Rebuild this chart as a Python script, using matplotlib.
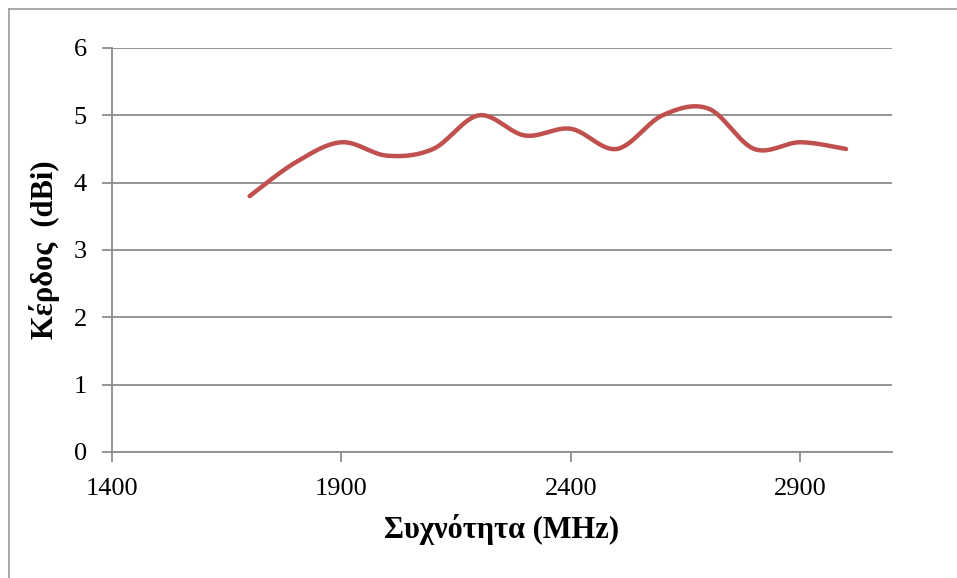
import numpy as np
import matplotlib.pyplot as plt
from matplotlib.lines import Line2D

# Data
freq = [1700, 1800, 1900, 2000, 2100, 2200, 2300, 2400, 2500, 2600, 2700, 2800, 2900, 3000]
gain = [3.8, 4.3, 4.6, 4.4, 4.5, 5.0, 4.7, 4.8, 4.5, 5.0, 5.1, 4.5, 4.6, 4.5]
xticks = [1400, 1900, 2400, 2900]
yticks = [0, 1, 2, 3, 4, 5, 6]

def smooth(x, y, n=30):
    # Catmull-Rom style smoothing like Excel's "smoothed line"
    x = np.asarray(x, float)
    y = np.asarray(y, float)
    px = np.concatenate([[x[0]], x, [x[-1]]])
    py = np.concatenate([[y[0]], y, [y[-1]]])
    t = np.linspace(0, 1, n)
    xs, ys = [], []
    for i in range(1, len(px) - 2):
        p0, p1, p2, p3 = px[i-1], px[i], px[i+1], px[i+2]
        q0, q1, q2, q3 = py[i-1], py[i], py[i+1], py[i+2]
        # bezier control points
        c1x, c1y = p1 + (p2 - p0) / 6, q1 + (q2 - q0) / 6
        c2x, c2y = p2 - (p3 - p1) / 6, q2 - (q3 - q1) / 6
        bx = (1-t)**3*p1 + 3*(1-t)**2*t*c1x + 3*(1-t)*t**2*c2x + t**3*p2
        by = (1-t)**3*q1 + 3*(1-t)**2*t*c1y + 3*(1-t)*t**2*c2y + t**3*q2
        xs.append(bx)
        ys.append(by)
    return np.concatenate(xs), np.concatenate(ys)

plt.rcParams['font.family'] = ['Liberation Serif', 'DejaVu Serif']

fig = plt.figure(figsize=(9.57, 5.78), dpi=100)
ax = fig.add_axes([0.117, 0.218, 0.815, 0.699])

sx, sy = smooth(freq, gain)
ax.plot(sx, sy, color='#C0504D', lw=3.2, solid_capstyle='round', zorder=3)

ax.set_xlim(1400, 3100)
ax.set_ylim(0, 6)
ax.set_xticks(xticks)
ax.set_yticks(yticks)
ax.yaxis.grid(True, color='#8c8c8c', lw=1.3)
ax.set_axisbelow(True)

for s in ['top', 'right']:
    ax.spines[s].set_visible(False)
for s in ['left', 'bottom']:
    ax.spines[s].set_color('#8c8c8c')
    ax.spines[s].set_linewidth(1.3)

ax.tick_params(axis='both', colors='#8c8c8c', width=1.3, length=7, labelsize=19, labelcolor='black')
ax.tick_params(axis='y', pad=11)
ax.tick_params(axis='x', pad=12)

ax.set_xlabel('Συχνότητα (MHz)', fontsize=22, fontweight='bold', labelpad=10)
ax.set_ylabel('Κέρδος  (dBi)', fontsize=22, fontweight='bold', labelpad=10)

# outer chart frame
fig.add_artist(Line2D([9/957, 9/957], [0, 1 - 9/578], transform=fig.transFigure, color='#9a9a9a', lw=1.2))
fig.add_artist(Line2D([9/957, 1], [1 - 9/578, 1 - 9/578], transform=fig.transFigure, color='#9a9a9a', lw=1.2))

fig.savefig('out.png', dpi=100)
